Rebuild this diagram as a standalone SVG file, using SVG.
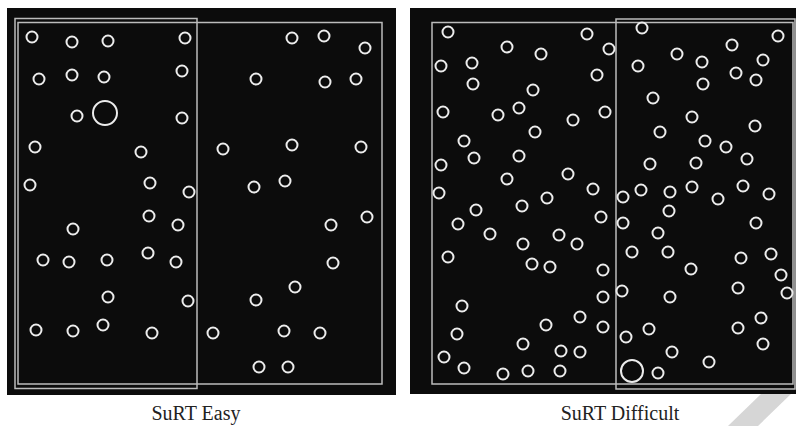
<svg xmlns="http://www.w3.org/2000/svg" width="796" height="426" viewBox="0 0 796 426">
<style>
.bg{fill:#0c0c0c}
.frame{fill:none;stroke:#bcbcbc;stroke-width:1.5}
.c{fill:none;stroke:#ececec;stroke-width:2}
.lbl{font-family:"Liberation Serif","Times New Roman",serif;font-size:20px;fill:#222;text-anchor:middle}
</style>
<rect width="796" height="426" fill="#ffffff"/>
<polygon points="728,426 758,426 792,393 762,393" fill="#d6d6d6"/>
<g id="easy">
<rect class="bg" x="7" y="8" width="389" height="387"/>
<rect class="frame" x="18" y="22.5" width="364" height="361.5"/>
<rect class="frame" x="15" y="18.5" width="182" height="370"/>
<g id="easy-circles">
<circle class="c" cx="32" cy="37" r="5.5"/><circle class="c" cx="72" cy="42" r="5.5"/><circle class="c" cx="108" cy="41" r="5.5"/><circle class="c" cx="185" cy="38" r="5.5"/>
<circle class="c" cx="39" cy="79" r="5.5"/><circle class="c" cx="72" cy="75" r="5.5"/><circle class="c" cx="104" cy="77" r="5.5"/><circle class="c" cx="182" cy="71" r="5.5"/>
<circle class="c" cx="77" cy="116" r="5.5"/><circle class="c" cx="105" cy="113" r="12"/><circle class="c" cx="182" cy="118" r="5.5"/>
<circle class="c" cx="35" cy="147" r="5.5"/><circle class="c" cx="141" cy="152" r="5.5"/><circle class="c" cx="30" cy="185" r="5.5"/><circle class="c" cx="150" cy="183" r="5.5"/><circle class="c" cx="189" cy="192" r="5.5"/>
<circle class="c" cx="292" cy="38" r="5.5"/><circle class="c" cx="324" cy="36" r="5.5"/><circle class="c" cx="365" cy="48" r="5.5"/>
<circle class="c" cx="256" cy="79" r="5.5"/><circle class="c" cx="325" cy="82" r="5.5"/><circle class="c" cx="356" cy="79" r="5.5"/>
<circle class="c" cx="223" cy="149" r="5.5"/><circle class="c" cx="292" cy="145" r="5.5"/><circle class="c" cx="361" cy="147" r="5.5"/>
<circle class="c" cx="254" cy="187" r="5.5"/><circle class="c" cx="285" cy="181" r="5.5"/>
<circle class="c" cx="149" cy="216" r="5.5"/><circle class="c" cx="178" cy="225" r="5.5"/><circle class="c" cx="73" cy="229" r="5.5"/>
<circle class="c" cx="43" cy="260" r="5.5"/><circle class="c" cx="69" cy="262" r="5.5"/><circle class="c" cx="107" cy="260" r="5.5"/><circle class="c" cx="148" cy="253" r="5.5"/><circle class="c" cx="176" cy="262" r="5.5"/>
<circle class="c" cx="108" cy="297" r="5.5"/><circle class="c" cx="188" cy="301" r="5.5"/>
<circle class="c" cx="36" cy="330" r="5.5"/><circle class="c" cx="73" cy="331" r="5.5"/><circle class="c" cx="103" cy="325" r="5.5"/><circle class="c" cx="152" cy="333" r="5.5"/>
<circle class="c" cx="367" cy="217" r="5.5"/><circle class="c" cx="331" cy="225" r="5.5"/><circle class="c" cx="333" cy="263" r="5.5"/>
<circle class="c" cx="295" cy="287" r="5.5"/><circle class="c" cx="256" cy="300" r="5.5"/>
<circle class="c" cx="213" cy="333" r="5.5"/><circle class="c" cx="284" cy="331" r="5.5"/><circle class="c" cx="320" cy="333" r="5.5"/>
<circle class="c" cx="259" cy="367" r="5.5"/><circle class="c" cx="288" cy="367" r="5.5"/>
</g>
<text class="lbl" x="196" y="420">SuRT Easy</text>
</g>
<g id="difficult">
<rect class="bg" x="410" y="8" width="386" height="386"/>
<rect class="frame" x="432" y="22.5" width="361" height="361.5"/>
<rect class="frame" x="616" y="19" width="179" height="370"/>
<g id="difficult-circles">
<circle class="c" cx="448" cy="32" r="5.5"/><circle class="c" cx="507" cy="47" r="5.5"/><circle class="c" cx="541" cy="54" r="5.5"/><circle class="c" cx="587" cy="34" r="5.5"/>
<circle class="c" cx="441" cy="66" r="5.5"/><circle class="c" cx="472" cy="63" r="5.5"/><circle class="c" cx="473" cy="84" r="5.5"/><circle class="c" cx="533" cy="90" r="5.5"/><circle class="c" cx="597" cy="75" r="5.5"/>
<circle class="c" cx="443" cy="112" r="5.5"/><circle class="c" cx="498" cy="115" r="5.5"/><circle class="c" cx="519" cy="108" r="5.5"/><circle class="c" cx="573" cy="120" r="5.5"/>
<circle class="c" cx="535" cy="132" r="5.5"/><circle class="c" cx="464" cy="141" r="5.5"/><circle class="c" cx="474" cy="158" r="5.5"/><circle class="c" cx="519" cy="156" r="5.5"/>
<circle class="c" cx="441" cy="165" r="5.5"/><circle class="c" cx="507" cy="179" r="5.5"/><circle class="c" cx="568" cy="174" r="5.5"/>
<circle class="c" cx="439" cy="193" r="5.5"/><circle class="c" cx="593" cy="189" r="5.5"/><circle class="c" cx="547" cy="198" r="5.5"/>
<circle class="c" cx="609" cy="49" r="5.5"/><circle class="c" cx="642" cy="28" r="5.5"/><circle class="c" cx="638" cy="66" r="5.5"/><circle class="c" cx="677" cy="54" r="5.5"/>
<circle class="c" cx="702" cy="62" r="5.5"/><circle class="c" cx="732" cy="45" r="5.5"/><circle class="c" cx="778" cy="36" r="5.5"/><circle class="c" cx="763" cy="60" r="5.5"/>
<circle class="c" cx="736" cy="73" r="5.5"/><circle class="c" cx="756" cy="80" r="5.5"/><circle class="c" cx="703" cy="84" r="5.5"/><circle class="c" cx="653" cy="98" r="5.5"/>
<circle class="c" cx="605" cy="112" r="5.5"/><circle class="c" cx="692" cy="117" r="5.5"/><circle class="c" cx="755" cy="126" r="5.5"/><circle class="c" cx="660" cy="132" r="5.5"/>
<circle class="c" cx="705" cy="141" r="5.5"/><circle class="c" cx="726" cy="147" r="5.5"/><circle class="c" cx="650" cy="164" r="5.5"/><circle class="c" cx="696" cy="163" r="5.5"/><circle class="c" cx="747" cy="159" r="5.5"/>
<circle class="c" cx="641" cy="190" r="5.5"/><circle class="c" cx="670" cy="192" r="5.5"/><circle class="c" cx="692" cy="187" r="5.5"/><circle class="c" cx="743" cy="186" r="5.5"/><circle class="c" cx="769" cy="194" r="5.5"/>
<circle class="c" cx="623" cy="197" r="5.5"/><circle class="c" cx="718" cy="199" r="5.5"/>
<circle class="c" cx="476" cy="210" r="5.5"/><circle class="c" cx="522" cy="206" r="5.5"/><circle class="c" cx="458" cy="224" r="5.5"/>
<circle class="c" cx="490" cy="234" r="5.5"/><circle class="c" cx="523" cy="244" r="5.5"/><circle class="c" cx="559" cy="235" r="5.5"/><circle class="c" cx="577" cy="244" r="5.5"/>
<circle class="c" cx="448" cy="257" r="5.5"/><circle class="c" cx="532" cy="264" r="5.5"/><circle class="c" cx="550" cy="267" r="5.5"/>
<circle class="c" cx="462" cy="306" r="5.5"/><circle class="c" cx="457" cy="334" r="5.5"/><circle class="c" cx="546" cy="325" r="5.5"/><circle class="c" cx="580" cy="317" r="5.5"/>
<circle class="c" cx="523" cy="344" r="5.5"/><circle class="c" cx="444" cy="357" r="5.5"/><circle class="c" cx="464" cy="368" r="5.5"/><circle class="c" cx="503" cy="374" r="5.5"/>
<circle class="c" cx="528" cy="371" r="5.5"/><circle class="c" cx="561" cy="351" r="5.5"/><circle class="c" cx="580" cy="352" r="5.5"/><circle class="c" cx="560" cy="371" r="5.5"/>
<circle class="c" cx="601" cy="217" r="5.5"/><circle class="c" cx="669" cy="211" r="5.5"/><circle class="c" cx="623" cy="223" r="5.5"/><circle class="c" cx="756" cy="223" r="5.5"/>
<circle class="c" cx="658" cy="233" r="5.5"/><circle class="c" cx="632" cy="252" r="5.5"/><circle class="c" cx="668" cy="252" r="5.5"/><circle class="c" cx="691" cy="269" r="5.5"/>
<circle class="c" cx="603" cy="270" r="5.5"/><circle class="c" cx="741" cy="258" r="5.5"/><circle class="c" cx="771" cy="254" r="5.5"/><circle class="c" cx="781" cy="275" r="5.5"/>
<circle class="c" cx="787" cy="293" r="5.5"/><circle class="c" cx="738" cy="288" r="5.5"/><circle class="c" cx="603" cy="297" r="5.5"/><circle class="c" cx="622" cy="291" r="5.5"/>
<circle class="c" cx="670" cy="297" r="5.5"/><circle class="c" cx="761" cy="318" r="5.5"/><circle class="c" cx="603" cy="327" r="5.5"/><circle class="c" cx="626" cy="337" r="5.5"/>
<circle class="c" cx="649" cy="329" r="5.5"/><circle class="c" cx="738" cy="328" r="5.5"/><circle class="c" cx="763" cy="344" r="5.5"/><circle class="c" cx="672" cy="352" r="5.5"/>
<circle class="c" cx="709" cy="362" r="5.5"/><circle class="c" cx="632" cy="371" r="11"/><circle class="c" cx="658" cy="373" r="5.5"/>
</g>
<text class="lbl" x="620" y="420">SuRT Difficult</text>
</g>
</svg>
